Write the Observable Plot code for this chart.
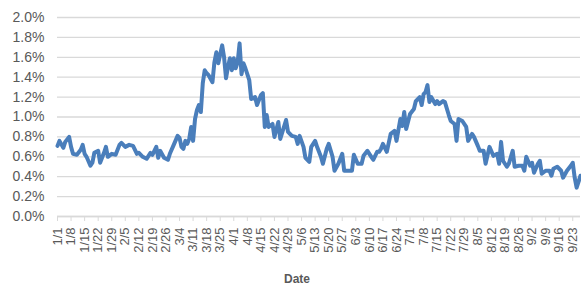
<!DOCTYPE html>
<html>
<head>
<meta charset="utf-8">
<script src="https://cdn.jsdelivr.net/npm/d3@7"></script>
<script src="https://cdn.jsdelivr.net/npm/@observablehq/plot@0.6"></script>
<style>
  html, body { margin: 0; padding: 0; background: #fff; }
</style>
</head>
<body>
<div id="chart"></div>
<script>
// Days since 2020-01-01 and the daily rate (%)
const dayOffsets = [0,1,3,4,6,7,8,10,12,13,14,15,17,18,19,21,22,24,25,26,28,30,32,33,35,37,39,41,42,44,46,48,49,51,52,53,55,57,58,60,62,63,64,65,66,67,68,69,70,71,72,73,74,75,76,77,78,80,81,82,83,85,86,87,88,89,90,91,92,93,94,95,96,97,99,100,102,103,105,106,107,108,109,111,112,114,115,118,119,121,123,124,125,127,128,130,131,133,134,136,137,139,140,142,143,145,147,148,150,152,153,155,157,158,160,162,163,165,166,167,168,170,172,174,175,177,178,179,180,182,184,185,187,188,189,190,191,192,193,195,196,197,199,200,202,203,205,206,207,209,211,212,214,215,217,218,220,221,223,225,227,228,229,230,232,233,235,236,238,240,241,242,244,245,246,248,249,250,252,254,255,256,258,260,261,263,265,266,267,268,270];
const rates = [0.71,0.76,0.69,0.75,0.80,0.70,0.63,0.62,0.67,0.72,0.63,0.60,0.51,0.54,0.64,0.66,0.54,0.64,0.70,0.60,0.63,0.62,0.72,0.74,0.70,0.72,0.71,0.63,0.64,0.60,0.58,0.64,0.62,0.70,0.59,0.66,0.59,0.57,0.63,0.72,0.81,0.79,0.70,0.68,0.76,0.73,0.78,0.90,0.76,0.98,1.07,1.12,1.05,1.34,1.47,1.44,1.42,1.35,1.55,1.65,1.54,1.72,1.60,1.39,1.50,1.59,1.47,1.59,1.49,1.55,1.74,1.43,1.54,1.49,1.37,1.18,1.20,1.12,1.22,1.24,0.90,1.02,0.90,0.93,0.80,0.95,0.78,0.97,0.85,0.81,0.80,0.73,0.81,0.70,0.59,0.55,0.70,0.76,0.70,0.60,0.53,0.68,0.73,0.60,0.46,0.53,0.63,0.46,0.46,0.46,0.62,0.53,0.53,0.61,0.66,0.60,0.57,0.65,0.65,0.68,0.73,0.65,0.83,0.86,0.76,0.98,0.91,1.05,0.88,1.03,1.08,1.16,1.20,1.12,1.23,1.25,1.32,1.15,1.20,1.13,1.16,1.13,1.16,1.15,1.02,0.96,0.93,0.76,0.98,0.96,0.90,0.76,0.83,0.80,0.71,0.66,0.66,0.53,0.70,0.61,0.63,0.53,0.75,0.56,0.50,0.53,0.66,0.50,0.51,0.51,0.46,0.60,0.51,0.54,0.44,0.53,0.56,0.43,0.46,0.46,0.41,0.48,0.50,0.46,0.39,0.46,0.51,0.54,0.39,0.29,0.41];
const yTicks = [0, 0.2, 0.4, 0.6, 0.8, 1.0, 1.2, 1.4, 1.6, 1.8, 2.0];
const startDate = "2020-01-01";
const endDate = "2020-09-27";
const xTitle = "Date";

const start = new Date(startDate + "T00:00:00Z");
const dayMs = 86400000;
const data = dayOffsets.map((d, i) => ({date: new Date(start.getTime() + d * dayMs), rate: rates[i]}));
const weekTicks = d3.range(0, 39).map(w => new Date(start.getTime() + w * 7 * dayMs));
const fmtDate = d => `${d.getUTCMonth() + 1}/${d.getUTCDate()}`;

const grey = "#595959";
const chart = Plot.plot({
  width: 581,
  height: 288,
  marginLeft: 57,
  marginRight: 1,
  marginTop: 17,
  marginBottom: 72,
  style: {fontFamily: '"Liberation Sans", Arial, sans-serif', background: "#fff"},
  x: {type: "utc", domain: [new Date(startDate + "T00:00:00Z"), new Date(endDate + "T00:00:00Z")]},
  y: {domain: [0, 2.0]},
  marks: [
    Plot.gridY(yTicks, {stroke: "#d9d9d9", strokeOpacity: 1, strokeWidth: 1.3}),
    Plot.axisY({ticks: yTicks, tickFormat: d => d.toFixed(1) + "%", tickSize: 0, tickPadding: 13, fontSize: 14, fill: grey, label: null}),
    Plot.ruleY([0], {stroke: "#d9d9d9", strokeWidth: 1.3}),
    Plot.axisX({ticks: weekTicks, tickFormat: fmtDate, tickRotate: -90, tickSize: 5, tickPadding: 6, fontSize: 13, fill: grey, stroke: "#d9d9d9", label: null}),
    Plot.lineY(data, {x: "date", y: "rate", stroke: "#4a7ebb", strokeWidth: 4, strokeLinejoin: "round", curve: "linear"}),
    Plot.text([xTitle], {frameAnchor: "bottom", dx: -22, dy: 66, fontSize: 12, fontWeight: "bold", fill: grey})
  ]
});
document.getElementById("chart").appendChild(chart);
</script>
</body>
</html>
